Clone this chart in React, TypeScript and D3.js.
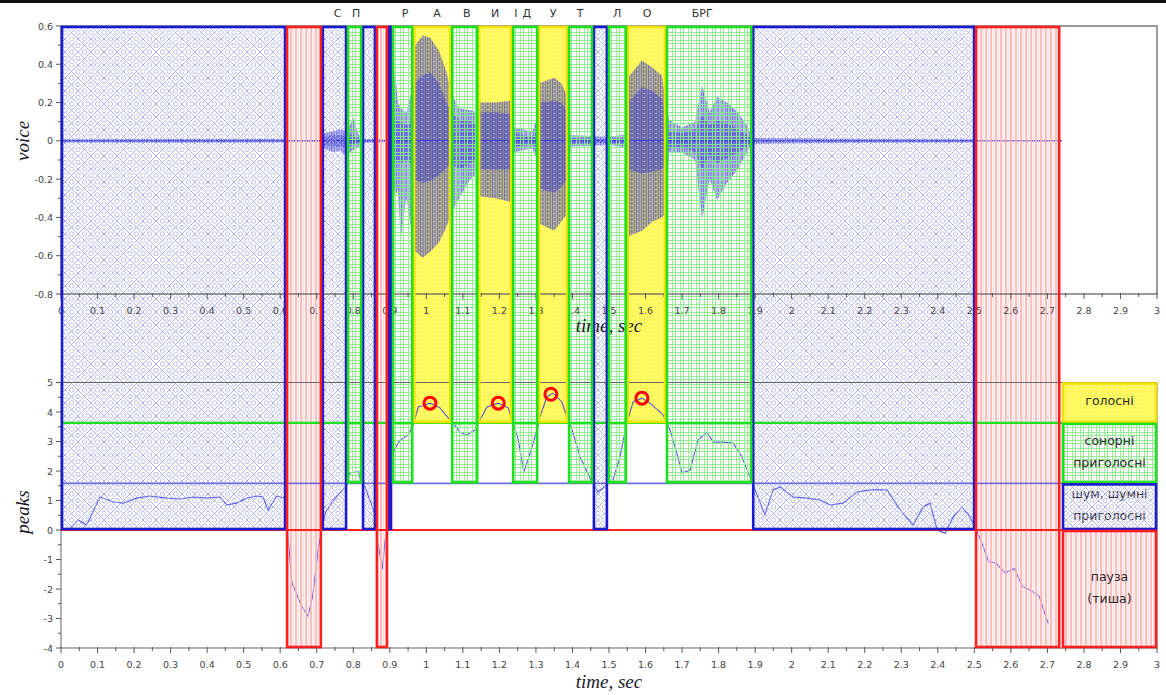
import React, { useEffect, useRef } from 'react';
import * as d3 from 'd3';

// segmentation of the utterance (sec) and class of each segment
const segStart = [0, 0.616, 0.714, 0.783, 0.824, 0.862, 0.895, 0.906, 0.964, 1.068, 1.142, 1.235, 1.306, 1.388, 1.456, 1.497, 1.549, 1.656, 1.892, 2.502];
const segEnd = [0.616, 0.714, 0.783, 0.824, 0.862, 0.895, 0.906, 0.964, 1.068, 1.142, 1.235, 1.306, 1.388, 1.456, 1.497, 1.549, 1.656, 1.892, 2.502, 2.735];
const segType = ['noise', 'pause', 'noise', 'sonor', 'noise', 'pause', 'noise', 'sonor', 'vowel', 'sonor', 'vowel', 'sonor', 'vowel', 'sonor', 'noise', 'sonor', 'vowel', 'sonor', 'noise', 'pause'];

// legend column (drawn in the same axes, right side)
const legendStart = 2.74;
const legendEnd = 3.0;
const classNames = ['vowel', 'sonor', 'noise', 'pause'];
const classTop = [5, 3.63, 1.58, 0];
const classBottom = [3.63, 1.58, 0, -4];
const classText = [['голосні'], ['сонорні', 'приголосні'], ['шум, шумні', 'приголосні'], ['пауза', '(тиша)']];

// phoneme labels above the top plot
const phonemes = ['С', 'П', 'Р', 'А', 'В', 'И', 'І', 'Д', 'У', 'Т', 'Л', 'О', 'БРГ'];
const phonemeT = [0.757, 0.808, 0.942, 1.029, 1.111, 1.188, 1.245, 1.275, 1.347, 1.421, 1.522, 1.604, 1.755];

// voice waveform envelope (outer and dense core)
const voiceT = [0, 0.3, 0.61, 0.616, 0.712, 0.72, 0.745, 0.765, 0.78, 0.79, 0.8, 0.815, 0.83, 0.86, 0.895, 0.906, 0.914, 0.922, 0.93, 0.945, 0.958, 0.966, 0.99, 1.01, 1.035, 1.055, 1.068, 1.09, 1.12, 1.14, 1.146, 1.19, 1.232, 1.24, 1.29, 1.3, 1.308, 1.35, 1.37, 1.386, 1.395, 1.456, 1.5, 1.545, 1.552, 1.59, 1.62, 1.645, 1.654, 1.665, 1.7, 1.735, 1.755, 1.775, 1.796, 1.823, 1.853, 1.878, 1.892, 2.2, 2.5, 2.51, 2.74];
const voiceMax = [0.008, 0.01, 0.01, 0.003, 0.003, 0.04, 0.05, 0.06, 0.05, 0.08, 0.12, 0.03, 0.01, 0.01, 0.004, 0.06, 0.37, 0.2, 0.17, 0.15, 0.25, 0.49, 0.55, 0.54, 0.47, 0.36, 0.25, 0.17, 0.16, 0.15, 0.2, 0.2, 0.21, 0.07, 0.05, 0.1, 0.3, 0.33, 0.3, 0.23, 0.03, 0.025, 0.02, 0.035, 0.33, 0.42, 0.38, 0.34, 0.21, 0.11, 0.07, 0.1, 0.29, 0.15, 0.23, 0.2, 0.15, 0.08, 0.015, 0.01, 0.008, 0.002, 0.002];
const voiceMin = [-0.008, -0.01, -0.008, -0.003, -0.003, -0.04, -0.06, -0.05, -0.08, -0.06, -0.05, -0.03, -0.01, -0.01, -0.004, -0.06, -0.3, -0.25, -0.51, -0.3, -0.45, -0.57, -0.61, -0.58, -0.53, -0.45, -0.38, -0.3, -0.2, -0.17, -0.29, -0.3, -0.32, -0.06, -0.04, -0.08, -0.43, -0.47, -0.42, -0.38, -0.03, -0.025, -0.02, -0.035, -0.5, -0.47, -0.42, -0.4, -0.38, -0.06, -0.06, -0.1, -0.41, -0.2, -0.31, -0.22, -0.15, -0.06, -0.015, -0.01, -0.008, -0.002, -0.002];
const voiceCoreMax = [0.004, 0.004, 0.004, 0.002, 0.002, 0.02, 0.03, 0.03, 0.025, 0.03, 0.03, 0.01, 0.004, 0.004, 0.002, 0.03, 0.12, 0.1, 0.1, 0.08, 0.1, 0.3, 0.34, 0.36, 0.3, 0.2, 0.15, 0.11, 0.1, 0.08, 0.15, 0.15, 0.14, 0.04, 0.02, 0.03, 0.2, 0.21, 0.2, 0.15, 0.015, 0.012, 0.01, 0.015, 0.2, 0.28, 0.26, 0.22, 0.15, 0.05, 0.04, 0.06, 0.13, 0.08, 0.11, 0.09, 0.06, 0.03, 0.006, 0.004, 0.004, 0.001, 0.001];
const voiceCoreMin = [-0.004, -0.004, -0.004, -0.002, -0.002, -0.02, -0.03, -0.03, -0.03, -0.03, -0.02, -0.01, -0.004, -0.004, -0.002, -0.03, -0.12, -0.1, -0.12, -0.1, -0.12, -0.2, -0.22, -0.21, -0.18, -0.14, -0.12, -0.15, -0.12, -0.1, -0.15, -0.15, -0.15, -0.03, -0.02, -0.03, -0.25, -0.27, -0.24, -0.2, -0.015, -0.012, -0.01, -0.015, -0.15, -0.17, -0.16, -0.15, -0.12, -0.04, -0.03, -0.06, -0.15, -0.08, -0.12, -0.09, -0.06, -0.03, -0.006, -0.004, -0.004, -0.001, -0.001];

// peaks curve
const peaksT = [0.02, 0.047, 0.07, 0.107, 0.143, 0.17, 0.207, 0.243, 0.29, 0.326, 0.362, 0.4, 0.435, 0.454, 0.48, 0.509, 0.536, 0.553, 0.567, 0.59, 0.613, 0.62, 0.632, 0.658, 0.676, 0.689, 0.705, 0.714, 0.723, 0.745, 0.783, 0.79, 0.814, 0.82, 0.832, 0.845, 0.862, 0.866, 0.88, 0.887, 0.893, 0.9, 0.909, 0.928, 0.95, 0.964, 0.978, 1.01, 1.037, 1.06, 1.073, 1.092, 1.11, 1.133, 1.147, 1.166, 1.197, 1.224, 1.237, 1.25, 1.267, 1.284, 1.303, 1.311, 1.33, 1.347, 1.371, 1.385, 1.399, 1.421, 1.448, 1.47, 1.494, 1.511, 1.53, 1.549, 1.566, 1.59, 1.612, 1.648, 1.667, 1.681, 1.7, 1.722, 1.744, 1.768, 1.785, 1.812, 1.84, 1.864, 1.886, 1.905, 1.927, 1.949, 1.968, 2.004, 2.042, 2.078, 2.105, 2.141, 2.179, 2.215, 2.261, 2.297, 2.332, 2.36, 2.379, 2.398, 2.42, 2.442, 2.466, 2.488, 2.508, 2.524, 2.539, 2.56, 2.585, 2.609, 2.632, 2.652, 2.678, 2.688, 2.703];
const peaksV = [0, 0.34, 0.17, 1.12, 0.95, 0.91, 1.08, 1.15, 1.08, 1.05, 1.12, 1.08, 1.12, 0.85, 0.91, 1.08, 1.15, 1.12, 0.67, 1.15, 1.08, 0, -1.79, -2.57, -2.93, -2.23, -0.56, 0, 0.57, 1.0, 1.53, 1.93, 1.97, 1.7, 1.46, 1.02, 0.44, -0.34, -1.32, -0.34, 0.2, 2.3, 2.64, 3.05, 3.22, 3.56, 4.17, 4.3, 4.14, 3.8, 3.63, 3.32, 3.22, 3.39, 3.73, 4.17, 4.3, 4.14, 3.63, 3.15, 1.97, 2.6, 3.39, 3.83, 4.51, 4.64, 4.34, 3.83, 3.39, 2.47, 1.76, 1.29, 1.53, 1.69, 2.47, 3.63, 4.34, 4.47, 4.3, 3.9, 3.39, 2.81, 1.93, 2.03, 3.05, 3.32, 2.98, 2.98, 2.95, 2.47, 1.8, 1.19, 0.51, 1.36, 1.46, 1.12, 1.08, 1.02, 0.85, 0.91, 1.29, 1.36, 1.36, 0.68, 0.17, 0.78, 0.91, 0, -0.11, 0.44, 0.78, 0.44, -0.06, -0.56, -1.07, -1.13, -1.46, -1.3, -1.92, -2.03, -2.25, -2.65, -3.18];

// vowel peaks marked with circles
const markT = [1.01, 1.197, 1.341, 1.59];
const markV = [4.3, 4.3, 4.6, 4.47];

const classFill = { vowel: 'url(#yellowDots)', sonor: 'url(#greenGrid)', noise: 'url(#blueLattice)', pause: 'url(#redStripes)' };
const classStroke = { vowel: '#f2e200', sonor: '#1fe01f', noise: '#1a1ad0', pause: '#ff1f1f' };
const classBase = { vowel: 3.63, sonor: 1.58, noise: 0, pause: -4 };

const tickFont = 'DejaVu Sans, sans-serif';

const fmt = (v) => String(+v.toFixed(2));

const App = () => {
  const svgRef = useRef(null);
  const width = 1166;
  const height = 695;

  useEffect(() => {
    const svg = d3.select(svgRef.current);
    svg.selectAll('*').remove();

    const x = d3.scaleLinear([0, 3], [61, 1157]);
    const yV = d3.scaleLinear([-0.8, 0.6], [294, 26]);
    const yP = d3.scaleLinear([-4, 5], [648, 382.5]);
    const top = yV(0.6);

    // patterns
    const defs = svg.append('defs');
    const pb = defs.append('pattern').attr('id', 'blueLattice').attr('patternUnits', 'userSpaceOnUse')
      .attr('width', 13).attr('height', 13);
    pb.append('path').attr('d', 'M0,0L13,13M13,0L0,13').attr('stroke', '#a4a7f0').attr('stroke-width', 0.9).attr('fill', 'none');
    [[6.5, 0], [6.5, 13], [0, 6.5], [13, 6.5]].forEach(([cx, cy]) =>
      pb.append('circle').attr('cx', cx).attr('cy', cy).attr('r', 2.2).attr('fill', 'none')
        .attr('stroke', '#aeb0f2').attr('stroke-width', 0.8));

    const pr = defs.append('pattern').attr('id', 'redStripes').attr('patternUnits', 'userSpaceOnUse')
      .attr('width', 5).attr('height', 10);
    pr.append('rect').attr('x', 0).attr('y', 0).attr('width', 2.2).attr('height', 10).attr('fill', '#ffb3b3').attr('opacity', 0.85);
    pr.append('rect').attr('x', 3.2).attr('y', 0).attr('width', 1).attr('height', 10).attr('fill', '#ffd0d0').attr('opacity', 0.8);

    const pg = defs.append('pattern').attr('id', 'greenGrid').attr('patternUnits', 'userSpaceOnUse')
      .attr('width', 8).attr('height', 8);
    pg.append('path').attr('d', 'M0,0.5H8M0,3.5H8M0.5,0V8M3.5,0V8').attr('stroke', '#8fea8f').attr('stroke-width', 0.9);

    const py = defs.append('pattern').attr('id', 'yellowDots').attr('patternUnits', 'userSpaceOnUse')
      .attr('width', 6).attr('height', 4);
    py.append('rect').attr('x', 1).attr('y', 1).attr('width', 2).attr('height', 1).attr('fill', '#ffffff').attr('opacity', 0.45);

    // vertical striation for the waveform (pitch periods)
    const pw = defs.append('pattern').attr('id', 'waveStripes').attr('patternUnits', 'userSpaceOnUse')
      .attr('width', 2.4).attr('height', 4);
    pw.append('rect').attr('x', 0).attr('y', 0).attr('width', 1.2).attr('height', 4).attr('fill', '#2a2ad8');

    svg.append('rect').attr('width', width).attr('height', height).attr('fill', '#fff');
    svg.append('rect').attr('width', width).attr('height', 3).attr('fill', '#111');

    const segs = segStart.map((s, i) => ({ s, e: segEnd[i], type: segType[i] }));

    // solid yellow under the vowel segments and legend
    const solid = svg.append('g');
    segs.filter(d => d.type === 'vowel').forEach(d =>
      solid.append('rect').attr('x', x(d.s)).attr('y', top).attr('width', x(d.e) - x(d.s))
        .attr('height', yP(classBase.vowel) - top).attr('fill', '#fff85a'));
    solid.append('rect').attr('x', x(legendStart)).attr('y', yP(classTop[0]))
      .attr('width', x(legendEnd) - x(legendStart)).attr('height', yP(classBottom[0]) - yP(classTop[0]))
      .attr('fill', '#fff85a');

    const legendText = (g, i) => {
      const cy = (yP(classTop[i]) + yP(classBottom[i])) / 2;
      const lines = classText[i];
      lines.forEach((t, j) => {
        g.append('text').attr('x', (x(legendStart) + x(legendEnd)) / 2)
          .attr('y', cy + (j - (lines.length - 1) / 2) * 22 + 2.5).text(t);
      });
    };

    // noise legend text sits under its lattice
    const ltUnder = svg.append('g').attr('font-family', tickFont).attr('font-size', 12.5).attr('fill', '#2a2a2a')
      .attr('text-anchor', 'middle');
    legendText(ltUnder, 2);

    // voice waveform
    const idx = d3.range(voiceT.length);
    const outer = d3.area().x(i => x(voiceT[i])).y0(i => yV(voiceMin[i])).y1(i => yV(voiceMax[i]));
    const core = d3.area().x(i => x(voiceT[i])).y0(i => yV(voiceCoreMin[i])).y1(i => yV(voiceCoreMax[i]));
    svg.append('path').attr('d', outer(idx)).attr('fill', '#3a3ac0').attr('opacity', 0.3);
    svg.append('path').attr('d', outer(idx)).attr('fill', 'url(#waveStripes)').attr('opacity', 0.55);
    svg.append('path').attr('d', core(idx)).attr('fill', '#3a3ad0').attr('opacity', 0.45);
    svg.append('line').attr('x1', x(voiceT[0])).attr('x2', x(voiceT[voiceT.length - 1]))
      .attr('y1', yV(0)).attr('y2', yV(0)).attr('stroke', '#3030e0').attr('stroke-width', 1);

    // peaks curve
    const pIdx = d3.range(peaksT.length);
    const line = d3.line().x(i => x(peaksT[i])).y(i => yP(peaksV[i]));
    svg.append('path').attr('d', line(pIdx)).attr('fill', 'none').attr('stroke', '#3434e6')
      .attr('stroke-width', 1.1).attr('opacity', 0.85);

    // hatch overlays
    const hatch = svg.append('g');
    segs.forEach(d => {
      hatch.append('rect').attr('x', x(d.s)).attr('y', top).attr('width', x(d.e) - x(d.s))
        .attr('height', yP(classBase[d.type]) - top).attr('fill', classFill[d.type]);
    });
    classNames.forEach((c, i) => {
      hatch.append('rect').attr('x', x(legendStart)).attr('y', yP(classTop[i]))
        .attr('width', x(legendEnd) - x(legendStart)).attr('height', yP(classBottom[i]) - yP(classTop[i]))
        .attr('fill', classFill[c]);
    });

    // other legend texts on top
    const lt = svg.append('g').attr('font-family', tickFont).attr('font-size', 12.5).attr('fill', '#2a2a2a')
      .attr('text-anchor', 'middle');
    [0, 1, 3].forEach(i => legendText(lt, i));

    // axes frames
    svg.append('rect').attr('x', x(0)).attr('y', yV(0.6)).attr('width', x(3) - x(0)).attr('height', yV(-0.8) - yV(0.6))
      .attr('fill', 'none').attr('stroke', '#666').attr('stroke-width', 1.3);
    svg.append('rect').attr('x', x(0)).attr('y', yP(5)).attr('width', x(3) - x(0)).attr('height', yP(-4) - yP(5))
      .attr('fill', 'none').attr('stroke', '#666').attr('stroke-width', 1);

    const axes = svg.append('g').attr('font-family', tickFont).attr('font-size', 9.5).attr('fill', '#444');
    [yV(-0.8), yP(-4)].forEach(yy => {
      x.ticks(60).forEach(t => {
        const major = Math.abs(t * 10 - Math.round(t * 10)) < 1e-6;
        axes.append('line').attr('x1', x(t)).attr('x2', x(t)).attr('y1', yy - 1).attr('y2', yy + (major ? 5 : 3))
          .attr('stroke', '#555').attr('stroke-width', 1);
      });
      x.ticks(30).forEach(t => {
        axes.append('text').attr('x', x(t)).attr('y', yy + 20).attr('text-anchor', 'middle').text(fmt(t));
      });
    });
    yV.ticks(14).forEach(t => {
      const major = Math.abs(t * 5 - Math.round(t * 5)) < 1e-6;
      axes.append('line').attr('x1', x(0) - (major ? 5 : 3)).attr('x2', x(0)).attr('y1', yV(t)).attr('y2', yV(t))
        .attr('stroke', '#555');
    });
    yV.ticks(7).forEach(t => {
      axes.append('text').attr('x', x(0) - 8).attr('y', yV(t) + 3.5).attr('text-anchor', 'end').text(fmt(t));
    });
    yP.ticks(18).forEach(t => {
      const major = Number.isInteger(t);
      axes.append('line').attr('x1', x(0) - (major ? 5 : 3)).attr('x2', x(0)).attr('y1', yP(t)).attr('y2', yP(t))
        .attr('stroke', '#555');
    });
    yP.ticks(9).forEach(t => {
      axes.append('text').attr('x', x(0) - 8).attr('y', yP(t) + 3.5).attr('text-anchor', 'end').text(fmt(t));
    });

    // axis titles
    const titles = svg.append('g').attr('font-family', 'Liberation Serif, serif').attr('font-style', 'italic')
      .attr('font-size', 19).attr('fill', '#1a1a2a');
    titles.append('text').attr('transform', `translate(29,${yV(0)}) rotate(-90)`).attr('text-anchor', 'middle').text('voice');
    titles.append('text').attr('transform', `translate(29,${yP(0) - 18}) rotate(-90)`).attr('text-anchor', 'middle').text('peaks');
    titles.append('text').attr('x', x(1.5)).attr('y', yV(-0.8) + 38).attr('text-anchor', 'middle').text('time, sec');
    titles.append('text').attr('x', x(1.5)).attr('y', yP(-4) + 40).attr('text-anchor', 'middle').text('time, sec');

    // threshold lines across the peaks axes
    [[classTop[1], '#1fe01f', 2.2], [classTop[2], '#6f6fe0', 1.6], [classTop[3], '#ff1f1f', 2.2]].forEach(([v, c, w]) => {
      svg.append('line').attr('x1', x(0)).attr('x2', x(3)).attr('y1', yP(v)).attr('y2', yP(v))
        .attr('stroke', c).attr('stroke-width', w);
    });

    // segment borders
    const borders = svg.append('g').attr('fill', 'none');
    ['vowel', 'noise', 'sonor', 'pause'].forEach(type => {
      segs.filter(d => d.type === type).forEach(d => {
        borders.append('rect').attr('x', x(d.s) + 1).attr('y', top + 1)
          .attr('width', Math.max(0, x(d.e) - x(d.s) - 2)).attr('height', yP(classBase[type]) - top - 2)
          .attr('stroke', classStroke[type]).attr('stroke-width', 2.6);
      });
    });
    classNames.forEach((c, i) => {
      borders.append('rect').attr('x', x(legendStart) + 1).attr('y', yP(classTop[i]) + 1)
        .attr('width', x(legendEnd) - x(legendStart) - 2).attr('height', yP(classBottom[i]) - yP(classTop[i]) - 2)
        .attr('stroke', classStroke[c]).attr('stroke-width', 2.6);
    });

    // vowel peak markers
    markT.forEach((t, i) => {
      svg.append('circle').attr('cx', x(t)).attr('cy', yP(markV[i])).attr('r', 6)
        .attr('fill', 'none').attr('stroke', '#ff0000').attr('stroke-width', 3);
    });

    // phoneme labels
    const ph = svg.append('g').attr('font-family', tickFont).attr('font-size', 11).attr('fill', '#333')
      .attr('text-anchor', 'middle');
    phonemes.forEach((p, i) => {
      ph.append('text').attr('x', x(phonemeT[i])).attr('y', 17).text(p);
    });
  }, []);

  return (
    <svg ref={svgRef} width={width} height={height} style={{ position: 'absolute', left: 0, top: 0 }} />
  );
};

export default App;
